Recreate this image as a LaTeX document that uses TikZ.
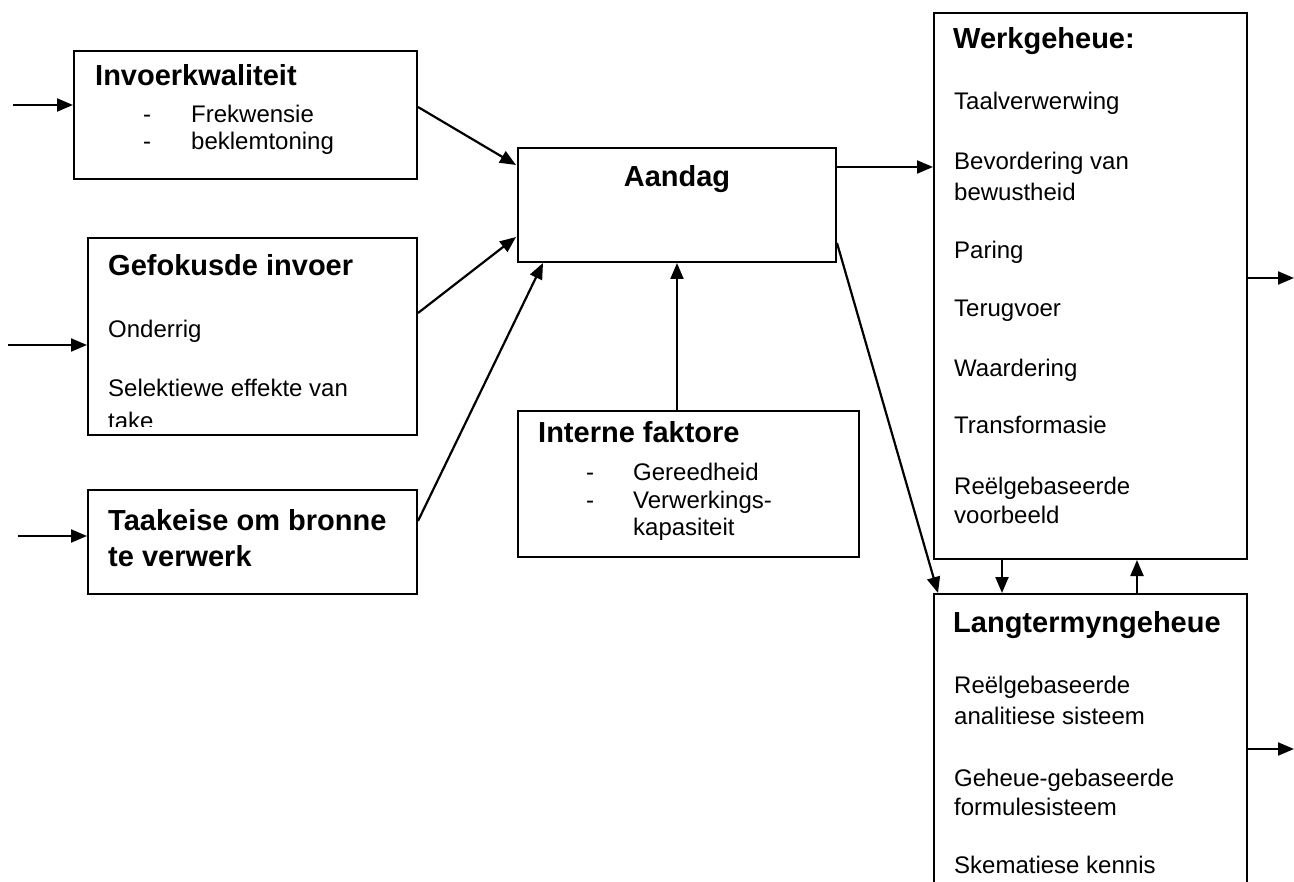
\documentclass[tikz,border=0pt]{standalone}
\usepackage{fontspec}
\setmainfont{Liberation Sans}
\usetikzlibrary{arrows.meta}
\begin{document}
\begin{tikzpicture}[x=1pt,y=-1pt,
  box/.style={draw,line width=2pt,inner sep=0pt,anchor=north west},
  conn/.style={line width=2.2pt,-{Triangle[length=16pt,width=13pt]}},
  txt/.style={anchor=base west,inner sep=0pt,font=\fontsize{24}{28}\selectfont},
  hd/.style={anchor=base west,inner sep=0pt,font=\fontsize{29}{33}\selectfont\bfseries}]
\clip (0,0) rectangle (1294,882);
% boxes
\node[box,minimum width=343pt,minimum height=128pt] (inv) at (73,50) {};
\node[box,minimum width=329pt,minimum height=197pt] (gef) at (87,237) {};
\node[box,minimum width=329pt,minimum height=104pt] (taak) at (87,489) {};
\node[box,minimum width=318pt,minimum height=114pt] (aan) at (517,147) {};
\node[box,minimum width=341pt,minimum height=146pt] (int) at (517,410) {};
\node[box,minimum width=313pt,minimum height=546pt] (werk) at (933,12) {};
\node[box,minimum width=313pt,minimum height=400pt] (lang) at (933,593) {};
% texts
\node[hd] (t1) at (95,86) {Invoerkwaliteit};
\node[txt] (d1) at (143,123) {-};
\node[txt] (t1a) at (191,123) {Frekwensie};
\node[txt] (d2) at (143,150) {-};
\node[txt] (t1b) at (191,150) {beklemtoning};

\node[hd] (t2) at (108,276) {Gefokusde invoer};
\node[txt] (t2a) at (108,338) {Onderrig};
\node[txt] (t2b) at (108,397) {Selektiewe effekte van};
\begin{scope}
\clip (90,400) rectangle (410,427);
\node[txt] (t2c) at (108,430) {take};
\end{scope}

\node[hd] (t3) at (108,530) {Taakeise om bronne};
\node[hd] (t3b) at (108,566) {te verwerk};

\node[hd,anchor=base] (t4) at (677,187) {Aandag};

\node[hd] (t5) at (538,443) {Interne faktore};
\node[txt] (d3) at (586,481) {-};
\node[txt] (t5a) at (633,481) {Gereedheid};
\node[txt] (d4) at (586,508) {-};
\node[txt] (t5b) at (633,508) {Verwerkings-};
\begin{scope}
\clip (520,515) rectangle (855,542);
\node[txt] (t5c) at (633,536) {kapasiteit};
\end{scope}

\node[hd] (t6) at (953,49) {Werkgeheue:};
\node[txt] (w1) at (954,110) {Taalverwerwing};
\node[txt] (w2) at (954,170) {Bevordering van};
\node[txt] (w3) at (954,201) {bewustheid};
\node[txt] (w4) at (954,259) {Paring};
\node[txt] (w5) at (954,317) {Terugvoer};
\node[txt] (w6) at (954,377) {Waardering};
\node[txt] (w7) at (954,434) {Transformasie};
\node[txt] (w8) at (954,495) {Reëlgebaseerde};
\node[txt] (w9) at (954,524) {voorbeeld};

\node[hd] (t7) at (953,632) {Langtermyngeheue};
\node[txt] (l1) at (954,693) {Reëlgebaseerde};
\node[txt] (l2) at (954,724) {analitiese sisteem};
\node[txt] (l3) at (954,786) {Geheue-gebaseerde};
\node[txt] (l4) at (954,815) {formulesisteem};
\node[txt] (l5) at (954,873) {Skematiese kennis};

% free ends
\coordinate (in1) at (13,105);
\coordinate (in2) at (8,345);
\coordinate (in3) at (18,536);
\coordinate (out1) at (1294,278);
\coordinate (out2) at (1294,749);

% connectors
\draw[conn] (in1) -- (inv.west |- in1);
\draw[conn] (in2) -- (gef.west |- in2);
\draw[conn] (in3) -- (taak.west |- in3);
\draw[conn] (inv.east |- 0,107) -- (516,165);
\draw[conn] (gef.east |- 0,313) -- (516,237);
\draw[conn] (taak.east |- 0,521) -- (aan.south west -| 543,0);
\draw[conn] (int.north -| 677,0) -- (aan.south -| 677,0);
\draw[conn] (aan.east |- 0,167) -- (werk.west |- 0,167);
\draw[conn] (aan.east |- 0,243) -- ([xshift=5pt]lang.north west);
\draw[conn] (werk.south -| 1002,0) -- (lang.north -| 1002,0);
\draw[conn] (lang.north -| 1137,0) -- (werk.south -| 1137,0);
\draw[conn] (werk.east |- out1) -- (out1);
\draw[conn] (lang.east |- out2) -- (out2);
\end{tikzpicture}
\end{document}
